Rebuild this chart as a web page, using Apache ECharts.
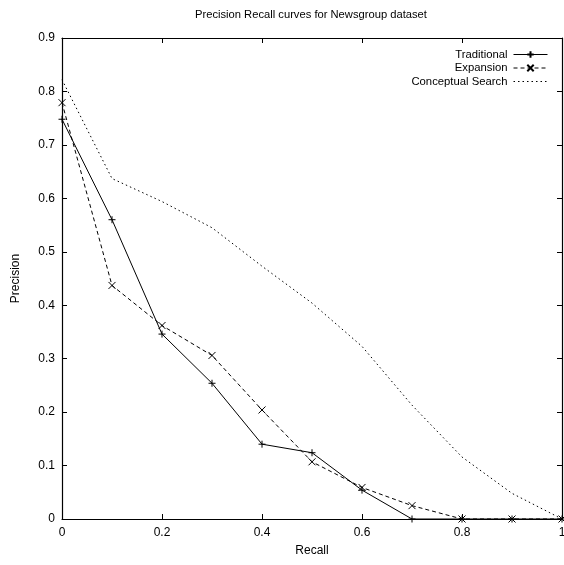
<!DOCTYPE html>
<html>
<head>
<meta charset="utf-8">
<script src="https://cdn.jsdelivr.net/npm/echarts@6/dist/echarts.min.js"></script>
<style>html,body{margin:0;padding:0;background:#fff}#c{width:564px;height:565px}</style>
</head>
<body>
<div id="c"></div>
<script>
const recall = [0, 0.1, 0.2, 0.3, 0.4, 0.5, 0.6, 0.7, 0.8, 0.9, 1.0];
const traditional = [0.748, 0.56, 0.346, 0.254, 0.14, 0.124, 0.054, 0, 0, 0, 0];
const expansion = [0.779, 0.437, 0.362, 0.306, 0.204, 0.107, 0.059, 0.025, 0, 0, 0];
const conceptual = [0.822, 0.637, 0.594, 0.545, 0.473, 0.404, 0.323, 0.213, 0.116, 0.048, 0];
const seriesNames = ['Traditional', 'Expansion', 'Conceptual Search'];

const FONT = '"Liberation Sans", Arial, sans-serif';
const pair = (ys) => recall.map((x, i) => [x, ys[i]]);
const plusSym = 'path://M0,5L10,5M5,0L5,10';
const crossSym = 'path://M0,0L10,10M0,10L10,0';

const chart = echarts.init(document.getElementById('c'), null, {renderer: 'canvas'});
const axisCommon = {
  type: 'value', min: 0, max: 1, interval: 0.2,
  axisLine: {show: true, onZero: false, lineStyle: {color: '#000', width: 1.2}},
  axisTick: {show: true, inside: true, length: 5, lineStyle: {color: '#000'}},
  splitLine: {show: false}
};
chart.setOption({
  animation: false,
  backgroundColor: '#fff',
  title: {
    text: 'Precision Recall curves for Newsgroup dataset',
    left: 190, top: 4,
    textStyle: {fontFamily: FONT, fontSize: 11.2, fontWeight: 'normal', color: '#000'}
  },
  legend: {
    data: seriesNames,
    orient: 'vertical', right: 11, top: 43,
    align: 'right', itemWidth: 34, itemHeight: 8, itemGap: 0.5,
    textStyle: {fontFamily: FONT, fontSize: 11.3, color: '#000', padding: [0, 1, 0, 0], lineHeight: 13},
    lineStyle: {width: 1},
    backgroundColor: 'rgba(0,0,0,0)'
  },
  grid: {left: 62, right: 2, top: 38, bottom: 46, containLabel: false, outerBoundsMode: 'none'},
  xAxis: [
    Object.assign({}, axisCommon, {
      position: 'bottom', name: 'Recall', nameLocation: 'middle', nameGap: 26,
      nameTextStyle: {fontFamily: FONT, fontSize: 12, color: '#000'},
      axisLabel: {fontFamily: FONT, fontSize: 12, color: '#000', margin: 8}
    }),
    Object.assign({}, axisCommon, {position: 'top', axisLabel: {show: false}})
  ],
  yAxis: [
    Object.assign({}, axisCommon, {
      max: 0.9, interval: 0.1, position: 'left', name: 'Precision', nameLocation: 'middle', nameGap: 40,
      nameTextStyle: {fontFamily: FONT, fontSize: 12, color: '#000'},
      axisLabel: {fontFamily: FONT, fontSize: 12, color: '#000', margin: 7}
    }),
    Object.assign({}, axisCommon, {max: 0.9, interval: 0.1, position: 'right', axisLabel: {show: false}})
  ],
  series: [
    {
      name: seriesNames[0], type: 'line', data: pair(traditional),
      symbol: plusSym, symbolSize: 7,
      lineStyle: {color: '#000', width: 1, type: 'solid'},
      itemStyle: {color: '#000', borderColor: '#000', borderWidth: 1}
    },
    {
      name: seriesNames[1], type: 'line', data: pair(expansion),
      symbol: crossSym, symbolSize: 7,
      lineStyle: {color: '#000', width: 1, type: [4, 3]},
      itemStyle: {color: '#000', borderColor: '#000', borderWidth: 1}
    },
    {
      name: seriesNames[2], type: 'line', data: pair(conceptual),
      symbol: 'rect', symbolSize: 0, showSymbol: false,
      lineStyle: {color: '#000', width: 1, type: [1.5, 3]},
      itemStyle: {color: 'rgba(0,0,0,0)', borderWidth: 0}
    }
  ]
});
</script>
</body>
</html>
